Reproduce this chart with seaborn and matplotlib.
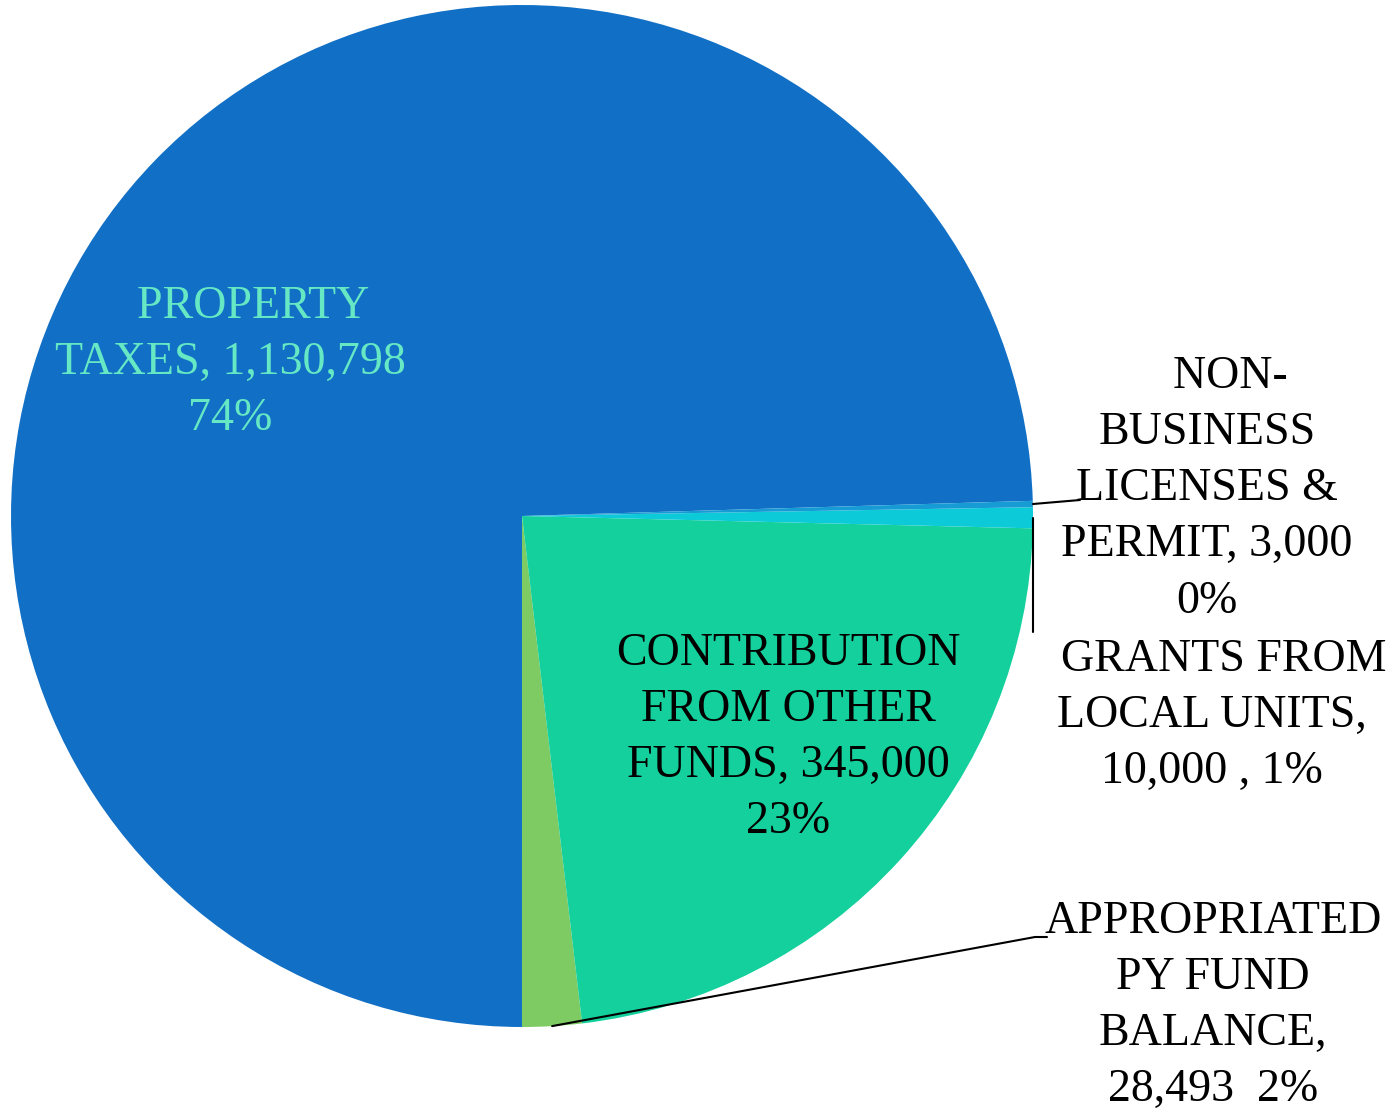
import numpy as np
import matplotlib
matplotlib.use("Agg")
import matplotlib.pyplot as plt
import seaborn as sns

sns.set_theme(style="white")
plt.rcParams['font.family'] = ['Liberation Serif', 'DejaVu Serif']

# data (counterclockwise order, starting just above 3 o'clock)
categories = ["PROPERTY TAXES", "APPROPRIATED PY FUND BALANCE", "CONTRIBUTION FROM OTHER FUNDS",
              "GRANTS FROM LOCAL UNITS", "NON-BUSINESS LICENSES & PERMIT"]
values = [1130798, 28493, 345000, 10000, 3000]
pct_labels = ["74%", "2%", "23%", "1%", "0%"]
colors = ["#1170C6", "#7DCB62", "#13D09C", "#0DCAD8", "#179BD5"]

W, H = 1396, 1115
fig = plt.figure(figsize=(W / 100, H / 100), dpi=100)
ax = fig.add_axes([0, 0, 1, 1])

cx, cy, r = 522, H - 516, 511
wedges, _ = ax.pie(values, colors=colors, startangle=1.7, counterclock=True,
                   center=(cx, cy), radius=r, frame=True,
                   wedgeprops=dict(linewidth=0))
ax.set_xlim(0, W)
ax.set_ylim(0, H)
ax.set_aspect('equal')
ax.axis('off')


def edge_point(w):
    ang = np.deg2rad((w.theta1 + w.theta2) / 2)
    return cx + r * np.cos(ang), cy + r * np.sin(ang)


fs = 33
kw = dict(fontsize=fs, ha='center', va='center', multialignment='center', linespacing=1.42)

# labels
ax.text(230, H - 363, "    PROPERTY\nTAXES, 1,130,798\n74%", color="#66E8C4", **kw)
ax.text(788, H - 738, "CONTRIBUTION\nFROM OTHER\nFUNDS, 345,000\n23%", color="black", **kw)
ax.text(1207, H - 489, "    NON-\nBUSINESS\nLICENSES &\nPERMIT, 3,000\n0%", color="black", **kw)
ax.text(1212, H - 716, "  GRANTS FROM\nLOCAL UNITS,\n10,000 , 1%", color="black", **kw)
ax.text(1213, H - 1006, "APPROPRIATED\nPY FUND\nBALANCE,\n28,493  2%", color="black", **kw)

# leader lines
x0, y0 = edge_point(wedges[1])
ax.plot([x0, 1035, 1047], [y0, H - 937, H - 937], color="black", lw=1.5)
x0, y0 = edge_point(wedges[4])
ax.plot([x0, 1080], [y0, H - 500], color="black", lw=1.5)
x0, y0 = edge_point(wedges[3])
ax.plot([x0, x0], [y0, H - 632], color="black", lw=1.5)

fig.savefig("out.png", dpi=100, facecolor="white")
